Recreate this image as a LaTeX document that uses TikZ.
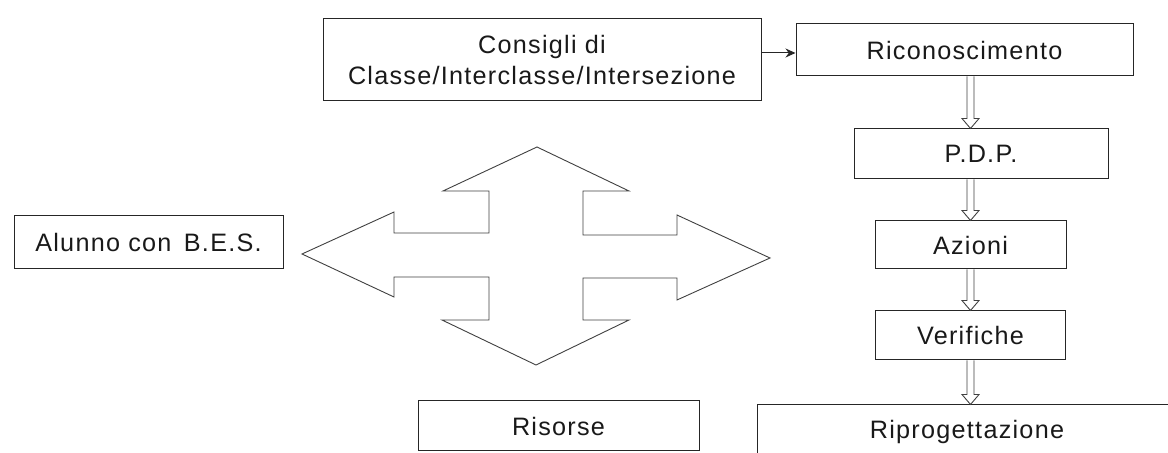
\documentclass[tikz,border=0pt]{standalone}
\usepackage{fontspec}
\setmainfont{Liberation Sans}[LetterSpace=5]
\usepackage{tikz}
\usetikzlibrary{calc, arrows.meta}
\tikzstyle{arrow} = [line width=0.5pt, draw=black!85, ->, >={Stealth[length=5pt, width=4.5pt]}]
\tikzstyle{box} = [rectangle, draw=black!85, line width=0.5pt, text=black!90, inner sep=0pt, font=\fontsize{12.6}{15.5}\selectfont, align=center]
\tikzstyle{hollow} = [draw=black!75, line width=0.45pt, fill=white]

% open block arrow pointing down, from one box to the next
\newcommand{\hollowdown}[2]{%
    \coordinate (hs) at (#1.south -| azioni.center);
    \coordinate (he) at (#2.north -| azioni.center);
    \draw [hollow] ([xshift=-1.75pt]hs) -- ([xshift=-1.75pt,yshift=5pt]he) -- ([xshift=-4.25pt,yshift=5pt]he) -- (he)
        -- ([xshift=4.25pt,yshift=5pt]he) -- ([xshift=1.75pt,yshift=5pt]he) -- ([xshift=1.75pt]hs);
}

\begin{document}
\begin{tikzpicture}[x=0.5pt, y=-0.5pt]
        \useasboundingbox (0,0) rectangle (1168,453);
        \clip (0,0) rectangle (1168,453);

        \node (consigli) [box, minimum width=219pt, minimum height=41pt] at (542,60) {Consigli di\\Classe/Interclasse/Intersezione};
        \node (ricon) [box, minimum width=168.5pt, minimum height=26pt] at (964.5,50) {Riconoscimento};
        \node (pdp) [box, minimum width=127pt, minimum height=25pt] at (981,154) {P.D.P.};
        \node (azioni) [box, below of=pdp, node distance=45.5pt, xshift=-5.25pt, minimum width=95.5pt, minimum height=24pt] {Azioni};
        \node (verifiche) [box, below of=azioni, node distance=45.25pt, minimum width=95pt, minimum height=24.5pt] {Verifiche};
        \node (ripro) [box, minimum width=210pt, minimum height=27pt] at (967,432) {Riprogettazione};
        \node (risorse) [box, minimum width=140.5pt, minimum height=25pt] at (558.5,426) {Risorse};
        \node (alunno) [box, minimum width=134.5pt, minimum height=26.5pt] at (148.5,242.5) {Alunno con\, B.E.S.};

        \draw [arrow] (consigli.east |- ricon.west) ++(0,3) coordinate (cstart) -- (cstart -| ricon.west);

        \hollowdown{ricon}{pdp}
        \hollowdown{pdp}{azioni}
        \hollowdown{azioni}{verifiche}
        \hollowdown{verifiche}{ripro}

        % four-way arrow
        \draw [hollow] (537,147) -- (629,191) -- (583,191) -- (583,235) -- (677,235) -- (677,215) -- (770,258)
            -- (677,300) -- (677,278) -- (583,278) -- (583,320) -- (629,320) -- (536,365) -- (442,320)
            -- (489,320) -- (489,277) -- (394,277) -- (394,297) -- (302,254) -- (394,212) -- (394,233)
            -- (489,233) -- (489,191) -- (443,191) -- cycle;

    \end{tikzpicture}
\end{document}
